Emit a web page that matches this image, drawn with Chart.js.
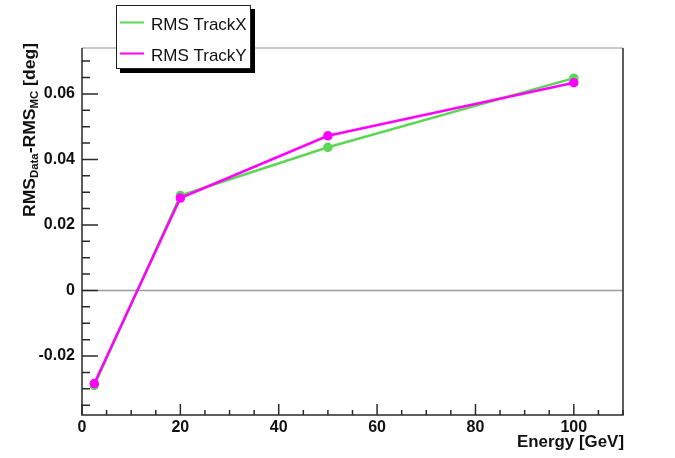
<!DOCTYPE html>
<html>
<head>
<meta charset="utf-8">
<script src="https://cdn.jsdelivr.net/npm/chart.js@4/dist/chart.umd.min.js"></script>
<style>
  body { margin: 0; background: #fff; }
  #wrap { width: 675px; height: 458px; }
</style>
</head>
<body>
<div id="wrap"><canvas id="rmsChart" width="675" height="458"></canvas></div>
<script>
// datos
const energy = [2.5, 20, 50, 100];
const rmsTrackX = [-0.029, 0.029, 0.0437, 0.0648];
const rmsTrackY = [-0.0284, 0.0282, 0.0472, 0.0634];
const seriesNames = ['RMS TrackX', 'RMS TrackY'];
const seriesColors = ['#5cd654', '#ff00ff'];
const xTicks = [0, 20, 40, 60, 80, 100];
const xTickLabels = ['0', '20', '40', '60', '80', '100'];
const yTicks = [-0.02, 0, 0.02, 0.04, 0.06];
const yTickLabels = ['-0.02', '0', '0.02', '0.04', '0.06'];

const toPoints = (xs, ys) => xs.map((x, i) => ({ x: x, y: ys[i] }));

// plugin para dibujar ejes al estilo ROOT (ticks hacia dentro)
const rootAxes = {
    id: 'rootAxes',
    beforeDatasetsDraw(chart) {
        const { ctx, chartArea: a, scales } = chart;
        const y0 = scales.y.getPixelForValue(0);
        ctx.save();
        ctx.strokeStyle = '#9a9a9a';
        ctx.lineWidth = 1.5;
        ctx.beginPath();
        ctx.moveTo(a.left, y0);
        ctx.lineTo(a.right, y0);
        ctx.stroke();
        // borde superior gris
        ctx.strokeStyle = '#b5b5b5';
        ctx.beginPath();
        ctx.moveTo(a.left, a.top);
        ctx.lineTo(a.right, a.top);
        ctx.stroke();
        ctx.restore();
    },
    afterDraw(chart) {
        const { ctx, chartArea: a, scales } = chart;
        const xs = scales.x, ys = scales.y;
        ctx.save();
        ctx.strokeStyle = '#2a2a2a';
        ctx.lineWidth = 1.5;
        ctx.beginPath();
        ctx.moveTo(a.left, a.top);
        ctx.lineTo(a.left, a.bottom);
        ctx.lineTo(a.right, a.bottom);
        ctx.lineTo(a.right, a.top);
        ctx.stroke();

        // ticks
        ctx.beginPath();
        for (let v = 0; v <= 110; v += 5) {
            const px = xs.getPixelForValue(v);
            const len = v % 20 === 0 ? 11 : 5;
            ctx.moveTo(px, a.bottom);
            ctx.lineTo(px, a.bottom - len);
        }
        for (let k = -7; k <= 14; k++) {
            const v = k * 0.005;
            const py = ys.getPixelForValue(v);
            if (py < a.top || py > a.bottom) continue;
            const len = k % 4 === 0 ? 16 : 8;
            ctx.moveTo(a.left, py);
            ctx.lineTo(a.left + len, py);
        }
        ctx.stroke();

        // etiquetas
        ctx.fillStyle = '#111';
        ctx.font = 'bold 16px "Liberation Sans", Arial, sans-serif';
        ctx.textAlign = 'center';
        ctx.textBaseline = 'alphabetic';
        xTicks.forEach((v, i) => {
            ctx.fillText(xTickLabels[i], xs.getPixelForValue(v), 432, 30);
        });
        ctx.textAlign = 'right';
        ctx.textBaseline = 'middle';
        yTicks.forEach((v, i) => {
            ctx.fillText(yTickLabels[i], 75, ys.getPixelForValue(v), 40);
        });

        // titulo eje x
        ctx.textAlign = 'right';
        ctx.textBaseline = 'alphabetic';
        ctx.font = 'bold 17px "Liberation Sans", Arial, sans-serif';
        ctx.fillText('Energy [GeV]', 624, 447, 107);

        // titulo eje y con subindices
        const parts = [
            { t: 'RMS', sub: false },
            { t: 'Data', sub: true },
            { t: '-RMS', sub: false },
            { t: 'MC', sub: true },
            { t: ' [deg]', sub: false }
        ];
        const big = 'bold 17px "Liberation Sans", Arial, sans-serif';
        const small = 'bold 11px "Liberation Sans", Arial, sans-serif';
        let total = 0;
        parts.forEach(p => {
            ctx.font = p.sub ? small : big;
            p.w = ctx.measureText(p.t).width;
            total += p.w;
        });
        const target = 174;
        ctx.translate(35, 217);
        ctx.rotate(-Math.PI / 2);
        ctx.scale(target / total, 1);
        ctx.textAlign = 'left';
        let cx = 0;
        parts.forEach(p => {
            ctx.font = p.sub ? small : big;
            ctx.fillText(p.t, cx, p.sub ? 3 : 0);
            cx += p.w;
        });
        ctx.restore();

        // leyenda con sombra
        ctx.save();
        const lx = 116, ly = 5, lw = 135, lh = 64;
        ctx.fillStyle = '#000';
        ctx.fillRect(lx + 4, ly + 4, lw, lh);
        ctx.fillStyle = '#fff';
        ctx.fillRect(lx, ly, lw, lh);
        ctx.strokeStyle = '#222';
        ctx.lineWidth = 1;
        ctx.strokeRect(lx + 0.5, ly + 0.5, lw - 1, lh - 1);
        ctx.font = '17px "Liberation Sans", Arial, sans-serif';
        ctx.textAlign = 'left';
        ctx.textBaseline = 'alphabetic';
        const rows = [22.5, 53.5];
        seriesNames.forEach((name, i) => {
            ctx.strokeStyle = seriesColors[i];
            ctx.lineWidth = 2;
            ctx.beginPath();
            ctx.moveTo(120, rows[i]);
            ctx.lineTo(144, rows[i]);
            ctx.stroke();
            ctx.fillStyle = '#111';
            ctx.fillText(name, 151, rows[i] + 7, 97);
        });
        ctx.restore();
    }
};

const ctx = document.getElementById('rmsChart').getContext('2d');
const chart = new Chart(ctx, {
    type: 'line',
    data: {
        datasets: [
            {
                label: seriesNames[0],
                data: toPoints(energy, rmsTrackX),
                borderColor: seriesColors[0],
                backgroundColor: seriesColors[0],
                borderWidth: 2.5,
                pointRadius: 3.5,
                order: 1
            },
            {
                label: seriesNames[1],
                data: toPoints(energy, rmsTrackY),
                borderColor: seriesColors[1],
                backgroundColor: seriesColors[1],
                borderWidth: 2.5,
                pointRadius: 3.5,
                order: 0
            }
        ]
    },
    options: {
        responsive: false,
        animation: false,
        layout: { padding: { left: 82, right: 52, top: 48, bottom: 43 } },
        scales: {
            x: { type: 'linear', min: 0, max: 110, display: false },
            y: { type: 'linear', min: -0.038, max: 0.074, display: false }
        },
        plugins: {
            legend: { display: false },
            tooltip: { enabled: false }
        }
    },
    plugins: [rootAxes]
});
</script>
</body>
</html>
